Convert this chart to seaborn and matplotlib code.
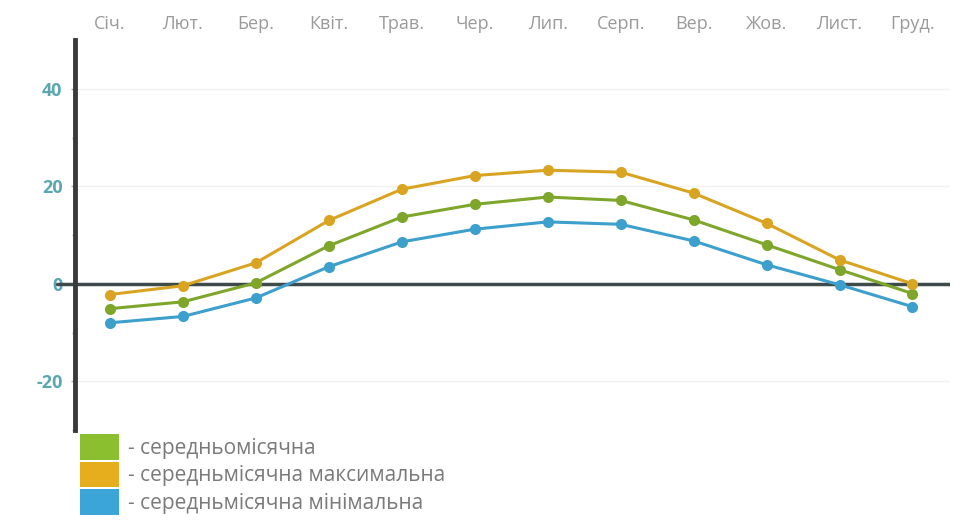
import matplotlib
matplotlib.use("Agg")
import matplotlib.pyplot as plt
import seaborn as sns
import pandas as pd
from matplotlib.patches import Patch
import matplotlib.transforms as mtransforms

months = ["Січ.", "Лют.", "Бер.", "Квіт.", "Трав.", "Чер.", "Лип.", "Серп.", "Вер.", "Жов.", "Лист.", "Груд."]
t_mean = [-5.1, -3.7, 0.2, 7.8, 13.7, 16.3, 17.8, 17.1, 13.1, 8.0, 2.9, -2.0]
t_max = [-2.2, -0.4, 4.3, 13.0, 19.4, 22.2, 23.3, 22.9, 18.6, 12.4, 4.9, 0.0]
t_min = [-8.0, -6.7, -2.9, 3.5, 8.6, 11.2, 12.7, 12.2, 8.8, 3.9, -0.2, -4.7]
series_names = ["середньомісячна", "середньмісячна максимальна", "середньмісячна мінімальна"]
colors = ["#8bbf2f", "#e6ad1c", "#3aa5d6"]
line_colors = ["#7ea62b", "#d9a422", "#3d9fcc"]
y_ticks = [-20, 0, 20, 40]
y_minor = [-30, -10, 10, 30]

sns.set_theme(style="white")
plt.rcParams["font.family"] = ["Open Sans", "DejaVu Sans"]
plt.rcParams["axes.unicode_minus"] = False

data = {series_names[0]: t_mean, series_names[1]: t_max, series_names[2]: t_min}
rows = []
for name, vals in data.items():
    for i, v in enumerate(vals):
        rows.append({"x": i, "t": v, "s": name})
df = pd.DataFrame(rows)

fig = plt.figure(figsize=(9.61, 5.2), dpi=100)
ax = fig.add_axes([0.078, 0.173, 0.911, 0.75])

ax.axhline(0, color="#3f4a4a", lw=2.5, zorder=1)
trans = mtransforms.blended_transform_factory(ax.transAxes, ax.transData)
ax.plot([-0.02, 0], [0, 0], transform=trans, color="#3f4a4a", lw=2.5, clip_on=False)

sns.lineplot(data=df, x="x", y="t", hue="s", hue_order=series_names,
             palette=dict(zip(series_names, line_colors)), marker="o",
             markersize=8, markeredgewidth=0, lw=2.2, ax=ax, legend=False, zorder=3)

ax.set_xlim(-0.48, 11.52)
ax.set_ylim(-30, 50)
ax.set_xticks(range(12))
ax.set_xticklabels(months)
ax.xaxis.tick_top()
ax.tick_params(axis="x", length=0, labelsize=13, labelcolor="#9a9a9a", pad=5)
ax.set_yticks(y_ticks)
ax.set_yticks(y_minor, minor=True)
ax.tick_params(axis="y", which="major", length=3, width=1, color="#aaaaaa", labelsize=13, labelcolor="#5aa7b0", pad=6, left=True)
ax.tick_params(axis="y", which="minor", length=2, width=1, color="#aaaaaa", left=True)
for lab in ax.get_yticklabels():
    lab.set_fontweight("bold")
ax.set_xlabel("")
ax.set_ylabel("")
for sp in ["top", "right", "bottom"]:
    ax.spines[sp].set_visible(False)
ax.spines["left"].set_color("#3a3a3a")
ax.spines["left"].set_linewidth(3.5)
ax.grid(axis="y", color="#f2f2f2", lw=1)

handles = [Patch(facecolor=c, edgecolor="none") for c in colors]
labels = ["- " + n for n in series_names]
fig.legend(handles, labels, loc="upper left", bbox_to_anchor=(0.083, 0.165),
           frameon=False, fontsize=15, handlelength=1.9, handleheight=1.5,
           handletextpad=0.4, labelspacing=0.1, borderaxespad=0, borderpad=0,
           labelcolor="#7a7a7a")

fig.savefig("out.png", dpi=100)
